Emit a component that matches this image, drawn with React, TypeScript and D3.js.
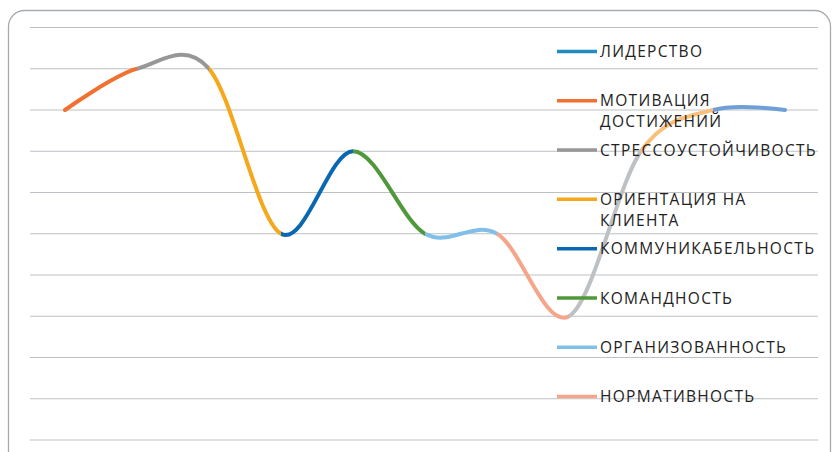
import * as d3 from 'd3';
import React, { useEffect, useRef } from 'react';

// values at each point, on a 0..10 grid
const values: number[] = [8, 9, 9, 5, 7, 5, 5, 3, 7, 8, 8];

// colour of the stretch that ends at point i (i = 1..10)
const segmentColors: string[] = [
  '#F07132',
  '#979797',
  '#F5A81C',
  '#0A68B2',
  '#50993A',
  '#80BFE8',
  '#F5A68A',
  '#BEC1C4',
  '#F8C07C',
  '#6E9FD8',
];

const legendLabels: string[][] = [
  ['ЛИДЕРСТВО'],
  ['МОТИВАЦИЯ', 'ДОСТИЖЕНИЙ'],
  ['СТРЕССОУСТОЙЧИВОСТЬ'],
  ['ОРИЕНТАЦИЯ НА', 'КЛИЕНТА'],
  ['КОММУНИКАБЕЛЬНОСТЬ'],
  ['КОМАНДНОСТЬ'],
  ['ОРГАНИЗОВАННОСТЬ'],
  ['НОРМАТИВНОСТЬ'],
];

const legendColors: string[] = [
  '#1F8CC4',
  '#F07132',
  '#979797',
  '#F5A81C',
  '#0A68B2',
  '#50993A',
  '#80BFE8',
  '#F5A68A',
];

const gridTicks: number[] = [0, 1, 2, 3, 4, 5, 6, 7, 8, 9, 10];

const width = 836;
const height = 452;

export default function App() {
  const ref = useRef<SVGSVGElement>(null);

  useEffect(() => {
    const svg = d3.select(ref.current);
    svg.selectAll('*').remove();

    const x = d3
      .scalePoint<number>()
      .domain(values.map((_, i) => i))
      .range([65, 785]);

    const y = d3.scaleLinear().domain([0, 10]).range([440, 27.5]);

    svg
      .append('rect')
      .attr('x', 8.5)
      .attr('y', 10.5)
      .attr('width', 822)
      .attr('height', 470)
      .attr('rx', 16)
      .attr('fill', '#fff')
      .attr('stroke', '#A7ABAF')
      .attr('stroke-width', 1.3);

    svg
      .append('g')
      .selectAll('line')
      .data(gridTicks)
      .join('line')
      .attr('x1', 30)
      .attr('x2', 818)
      .attr('y1', (d) => y(d))
      .attr('y2', (d) => y(d))
      .attr('stroke', '#BDC1C5')
      .attr('stroke-width', 1.2);

    const line = d3
      .line<number>()
      .x((_, i) => x(i) ?? 0)
      .y((d) => y(d))
      .curve(d3.curveCardinal.tension(0));

    const path = line(values) ?? '';

    const defs = svg.append('defs');
    segmentColors.forEach((c, k) => {
      const i = k + 1;
      const x0 = k === 0 ? 0 : (x(i - 1) ?? 0);
      const x1 = i === values.length - 1 ? width : (x(i) ?? 0);
      defs
        .append('clipPath')
        .attr('id', `seg${i}`)
        .append('rect')
        .attr('x', x0)
        .attr('y', 0)
        .attr('width', x1 - x0)
        .attr('height', height);

      svg
        .append('path')
        .attr('d', path)
        .attr('fill', 'none')
        .attr('stroke', c)
        .attr('stroke-width', 4)
        .attr('stroke-linecap', 'round')
        .attr('clip-path', `url(#seg${i})`);
    });

    const ly = d3
      .scaleLinear()
      .domain([0, legendLabels.length - 1])
      .range([51.5, 396.5]);

    const legend = svg
      .append('g')
      .selectAll('g')
      .data(legendLabels)
      .join('g')
      .attr('transform', (_, i) => `translate(0, ${ly(i)})`);

    legend
      .append('line')
      .attr('x1', 557)
      .attr('x2', 597)
      .attr('stroke', (_, i) => legendColors[i])
      .attr('stroke-width', 3.5);

    legend
      .selectAll('text')
      .data((d) => d)
      .join('text')
      .attr('x', 600)
      .attr('y', (_, j) => j * 21)
      .attr('dy', '0.36em')
      .attr('font-family', 'Open Sans, sans-serif')
      .attr('font-size', 15.5)
      .attr('letter-spacing', 1.3)
      .attr('fill', '#222')
      .text((d) => d);
  }, []);

  return (
    <svg
      ref={ref}
      width={width}
      height={height}
      style={{ position: 'absolute', left: 0, top: 0, background: '#fff' }}
    />
  );
}
